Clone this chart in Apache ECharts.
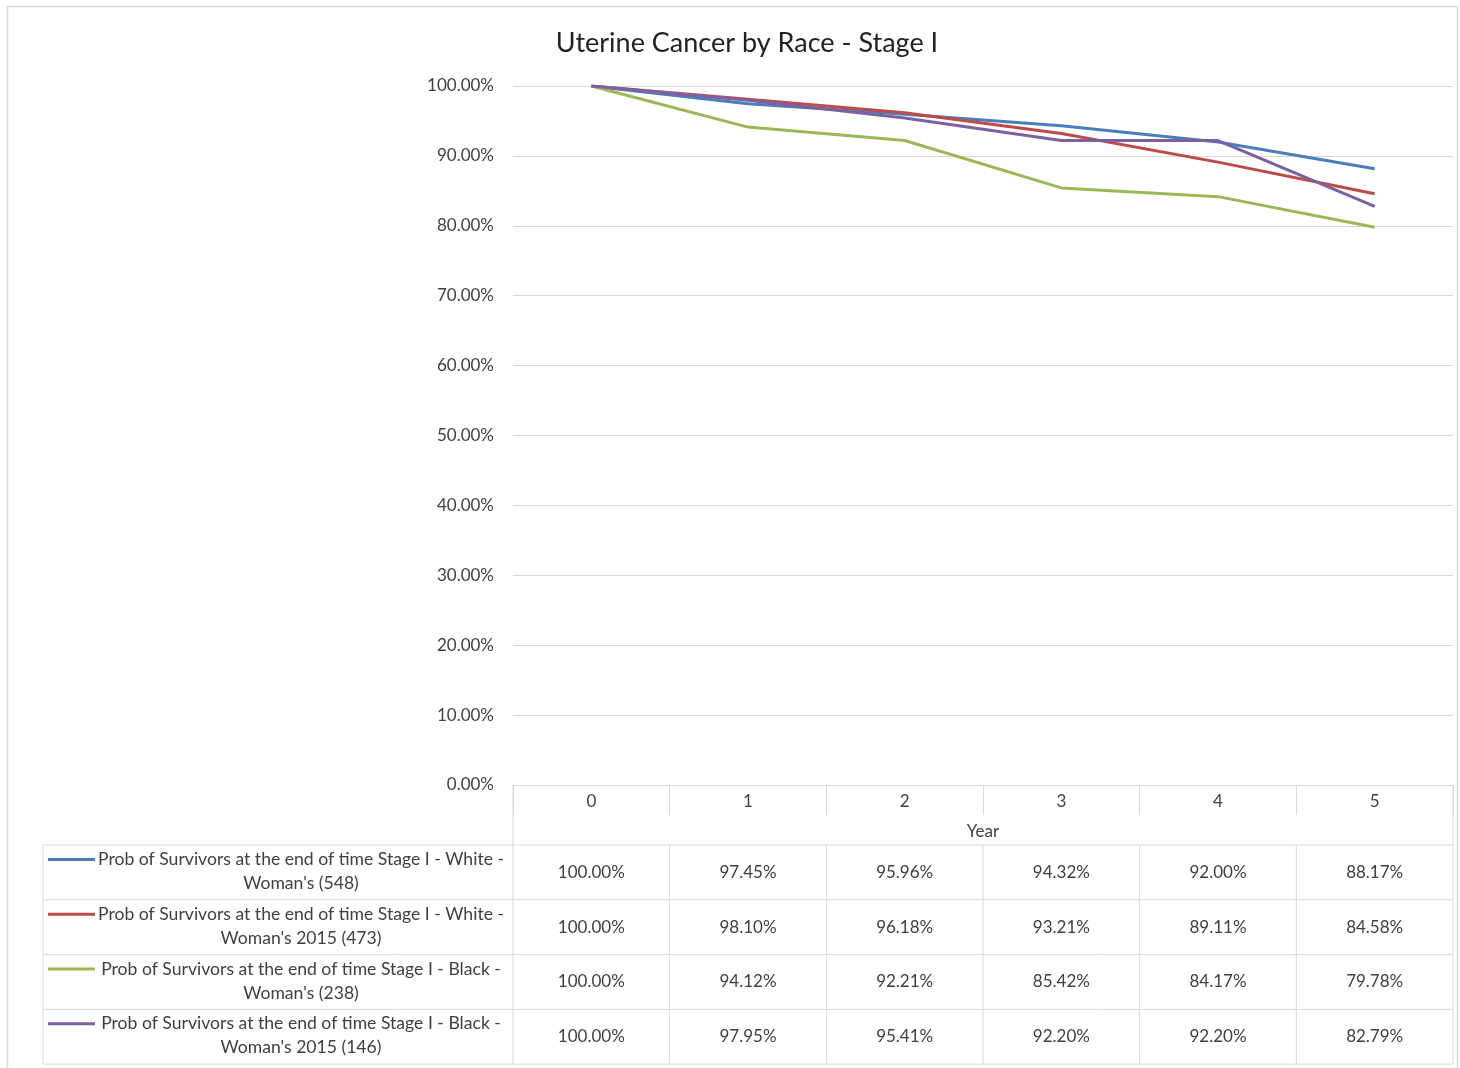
<!DOCTYPE html>
<html>
<head>
<meta charset="utf-8">
<script src="https://cdn.jsdelivr.net/npm/echarts@6/dist/echarts.min.js"></script>
<style>
  html, body { margin: 0; padding: 0; background: #ffffff; }
  #main { width: 1460px; height: 1068px; }
</style>
</head>
<body>
<div id="main"></div>
<script>
// Survival probability (%) at the end of each year, Stage I uterine cancer
const years = ['0', '1', '2', '3', '4', '5'];
const seriesNames = [
  "Prob of Survivors at the end of time Stage I - White - Woman's (548)",
  "Prob of Survivors at the end of time Stage I - White - Woman's 2015 (473)",
  "Prob of Survivors at the end of time Stage I - Black - Woman's (238)",
  "Prob of Survivors at the end of time Stage I - Black - Woman's 2015 (146)"
];
const whiteWomen     = [100.00, 97.45, 95.96, 94.32, 92.00, 88.17];
const whiteWomen2015 = [100.00, 98.10, 96.18, 93.21, 89.11, 84.58];
const blackWomen     = [100.00, 94.12, 92.21, 85.42, 84.17, 79.78];
const blackWomen2015 = [100.00, 97.95, 95.41, 92.20, 92.20, 82.79];
const seriesColors = ['#4a7ebb', '#be4b48', '#98b954', '#7d60a0'];

const allSeries = [whiteWomen, whiteWomen2015, blackWomen, blackWomen2015];
const FONT = 'Lato, "Open Sans", sans-serif';
const FS = 17;
const TEXT = '#404040';
const RULE = '#d9d9d9';
const pct = v => v.toFixed(2) + '%';

const chart = echarts.init(document.getElementById('main'), null, { renderer: 'canvas' });

chart.setOption({
  backgroundColor: '#ffffff',
  animation: false,
  title: {
    text: 'Uterine Cancer by Race - Stage I',
    left: 742, top: 25, textAlign: 'center',
    textStyle: { fontFamily: FONT, fontSize: 27, fontWeight: 'normal', color: '#222222' }
  },
  grid: { left: 513, right: 7, top: 86, bottom: 283, containLabel: false },
  xAxis: {
    type: 'category',
    data: years,
    boundaryGap: true,
    name: 'Year',
    nameLocation: 'middle',
    nameGap: 38,
    nameTextStyle: { fontFamily: FONT, fontSize: FS, color: TEXT },
    axisLine: { lineStyle: { color: RULE, width: 1 } },
    axisTick: { show: true, length: 30, lineStyle: { color: RULE } },
    axisLabel: { fontFamily: FONT, fontSize: FS, color: TEXT, margin: 8 }
  },
  yAxis: {
    type: 'value',
    min: 0, max: 100, interval: 10,
    axisLine: { show: false },
    axisTick: { show: false },
    axisLabel: { formatter: v => pct(v), fontFamily: FONT, fontSize: FS, color: TEXT, margin: 19 },
    splitLine: { lineStyle: { color: RULE, width: 1 } }
  },
  series: allSeries.map((d, i) => ({
    name: seriesNames[i],
    type: 'line',
    data: d,
    symbol: 'none',
    lineStyle: { color: seriesColors[i], width: 3 },
    itemStyle: { color: seriesColors[i] },
    z: 3 + i
  }))
});

// Data table under the plot, aligned to the category bands of the x axis
function buildTable() {
  const centers = years.map((_, i) => chart.convertToPixel({ xAxisIndex: 0 }, i));
  const band = centers[1] - centers[0];
  const edges = centers.map(c => c - band / 2).concat([centers[centers.length - 1] + band / 2]);
  const plotLeft = edges[0], plotRight = edges[edges.length - 1];
  const axisY = chart.convertToPixel({ yAxisIndex: 0 }, 0);
  const tableTop = axisY + 60;
  const rowH = 54.8;
  const labelLeft = 43;
  const els = [];
  const line = (x1, y1, x2, y2) => els.push({
    type: 'line', silent: true,
    shape: { x1, y1, x2, y2 },
    style: { stroke: RULE, lineWidth: 1 }
  });

  // outer frame of the chart area
  els.push({ type: 'rect', silent: true, shape: { x: 7.5, y: 6.5, width: 1450, height: 1070 },
             style: { fill: null, stroke: RULE, lineWidth: 1.5 } });

  // header block borders (left / right edges down to table top)
  line(plotLeft, axisY, plotLeft, tableTop);
  line(plotRight, axisY, plotRight, tableTop);

  // horizontal rules
  for (let r = 0; r <= allSeries.length; r++) {
    const y = tableTop + r * rowH;
    line(labelLeft, y, plotRight, y);
  }
  const tableBottom = tableTop + allSeries.length * rowH;
  // vertical rules
  line(labelLeft, tableTop, labelLeft, tableBottom);
  edges.forEach(x => line(x, tableTop, x, tableBottom));

  allSeries.forEach((d, r) => {
    const cy = tableTop + r * rowH + rowH / 2;
    // legend key
    els.push({ type: 'line', silent: true,
      shape: { x1: 48, y1: cy - 13, x2: 95, y2: cy - 13 },
      style: { stroke: seriesColors[r], lineWidth: 3 } });
    els.push({ type: 'text', silent: true,
      x: 301, y: cy - 1,
      style: {
        text: seriesNames[r].replace(/ (Woman's)/, '\n$1'),
        fontFamily: FONT, fontSize: 17.6, fill: TEXT,
        align: 'center', verticalAlign: 'middle', lineHeight: 24
      } });
    d.forEach((v, c) => {
      els.push({ type: 'text', silent: true,
        x: centers[c], y: cy,
        style: { text: pct(v), fontFamily: FONT, fontSize: FS, fill: TEXT,
                 align: 'center', verticalAlign: 'middle' } });
    });
  });

  chart.setOption({ graphic: { elements: els } });
}
buildTable();
</script>
</body>
</html>
